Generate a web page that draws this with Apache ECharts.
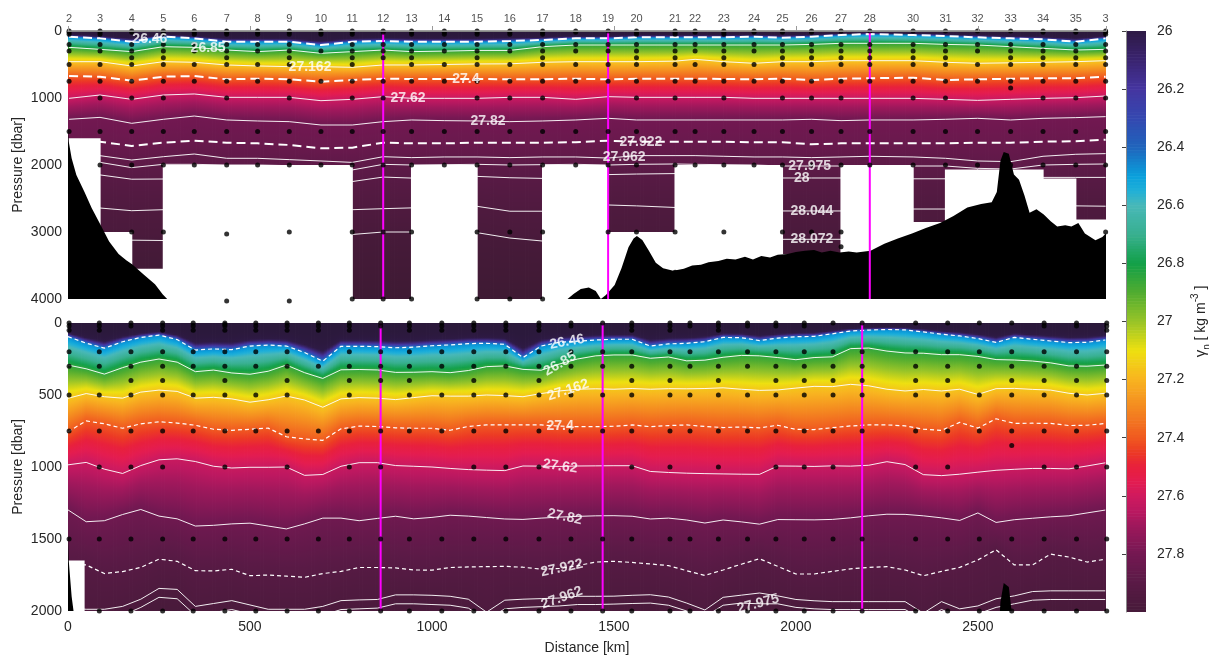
<!DOCTYPE html>
<html>
<head>
<meta charset="utf-8">
<script src="https://cdn.jsdelivr.net/npm/echarts@6/dist/echarts.min.js"></script>
<style>
html, body { margin: 0; padding: 0; background: #fff; }
#chart { width: 1209px; height: 656px; }
</style>
</head>
<body>
<div id="chart"></div>
<script>
// ---------------- Upper section: CTD stations, 0-4000 dbar ----------------
const upperStationNames = ['2','3','4','5','6','7','8','9','10','11','12','13','14','15','16','17','18','19','20','21','22','23','24','25','26','27','28','30','31','32','33','34','35','3'];
const upperStationKm = [3,88,175,262,347,436,521,608,695,781,866,944,1034,1124,1214,1304,1395,1484,1562,1668,1723,1802,1885,1963,2043,2124,2203,2322,2411,2499,2590,2679,2769,2851];

// neutral density surfaces: depth (dbar) at each station
const upper_26_46  = [85,110,160,85,110,160,160,160,210,160,150,160,160,160,150,134,110,110,95,95,95,95,85,100,85,60,45,60,75,95,110,125,160,110];
const upper_26_85  = [244,274,308,234,244,284,308,284,333,308,284,308,300,290,290,234,209,209,209,209,209,209,209,209,200,184,184,184,200,209,234,259,284,274];
const upper_27_162 = [458,458,522,458,467,507,522,532,532,542,507,507,500,492,490,467,458,458,458,450,423,458,482,458,458,443,443,443,467,482,475,467,458,443];
const upper_27_4   = [672,682,742,682,672,721,712,721,756,731,712,716,716,716,721,721,712,721,712,712,712,716,721,712,731,712,705,697,731,721,712,705,705,682];
const upper_27_62  = [1005,955,1020,955,940,990,990,990,1040,1020,980,1005,1005,1005,990,990,1020,980,990,990,990,990,1005,1005,1005,1005,1005,1005,1020,1035,1020,1005,995,970];
const upper_27_82  = [1318,1289,1378,1318,1269,1328,1343,1353,1403,1403,1353,1328,1338,1343,1353,1343,1328,1303,1328,1328,1328,1328,1328,1328,1318,1338,1328,1328,1318,1303,1328,1303,1293,1278];
const upper_27_922 = [1660,1652,1716,1667,1637,1667,1677,1701,1751,1741,1667,1677,1677,1667,1667,1667,1660,1637,1652,1652,1652,1652,1660,1660,1692,1677,1677,1677,1677,1667,1667,1652,1645,1622];
const upper_27_962 = [1860,1861,1926,1876,1836,1900,1900,1920,1940,1961,1876,1890,1880,1880,1890,1880,1880,1896,1860,1860,1860,1870,1880,1880,1890,1880,1870,1880,1900,1940,1950,1870,1840,1830];
const upper_27_975 = [1960,1961,2039,1990,1990,2000,2000,2010,2030,2074,1990,2000,1995,1990,2000,1995,1990,2000,1990,1985,1990,1995,2000,2015,2015,2015,2010,2015,2015,2050,2060,2000,1990,1985];
const upper_28     = [2150,2148,2212,2209,2200,2200,2200,2210,2230,2247,2180,2195,2180,2170,2190,2200,2170,2143,2135,2128,2140,2150,2160,2194,2194,2194,2200,2206,2206,2220,2200,2185,2185,2185];
const upper_28_044 = [2640,2642,2682,2667,2660,2660,2660,2660,2665,2667,2652,2640,2630,2617,2690,2690,2640,2597,2610,2634,2650,2660,2670,2686,2686,2686,2670,2657,2657,2650,2640,2608,2610,2615];
const upper_28_072 = [3150,3150,3122,3127,3080,3060,3050,3050,3045,3037,3000,3000,3005,3010,3090,3135,3100,3080,3090,3100,3100,3100,3100,3109,3109,3109,3100,3100,3100,3100,3100,3100,3100,3100];

// deepest gridded pressure between neighbouring stations
const upperSectionFloor = [1600,3000,3550,2000,2000,2000,2000,2000,2000,4000,4000,2000,2000,4000,4000,2000,2000,3000,3000,2000,2000,2000,2000,3330,3330,2000,2000,2850,2066,2066,2066,2200,2815];

// bottle depths (dbar) per station
const upperCasts = [
  [0,20,50,200,300,500,750,1500],
  [0,20,50,200,300,500,750,1000,1500,2000,3000],
  [0,20,200,300,400,500,750,1000,1500,2000,3000],
  [0,20,50,200,300,400,500,750,1000,1500,2000,3000],
  [0,20,50,200,300,500,750,1500,2000],
  [0,10,20,50,200,300,400,500,750,1000,1500,2000,3030,4030],
  [0,20,50,200,300,500,750,1500,2000],
  [0,20,50,200,300,400,500,750,1000,1500,2000,3000,4030],
  [0,20,50,300,750,1500,2000],
  [0,20,50,200,300,400,500,750,1000,1500,2000,3000,4000],
  [0,20,200,300,400,750,1000,1500,2000,3000,4000],
  [0,20,50,200,300,400,500,750,1500,2000,3000,4000],
  [0,20,50,200,300,500,750,1500,2000],
  [0,20,50,200,300,400,500,750,1000,1500,2000,3000,4000],
  [0,20,50,200,300,500,750,1000,1500,2000,3000,4000],
  [0,20,50,200,300,400,500,750,1000,1500,2000,3000,4000],
  [0,20,200,300,500,750,1500,2000],
  [0,200,300,500,750,1500,2000,3000],
  [0,20,50,200,300,400,500,750,1000,1500,2000,3000],
  [0,20,50,200,300,400,500,750,1000,1500,2000,3000,3600],
  [0,20,200,300,500,750,1500,2000],
  [0,20,50,200,300,400,500,750,1000,1500,2000,3000],
  [0,20,200,300,500,750,1500,2000],
  [0,20,200,300,400,500,750,1000,1500,2000,3000],
  [0,20,200,300,400,500,750,1000,1500,2000,3000],
  [0,200,300,400,500,750,1000,1500,2000,3000,3220],
  [0,200,300,400,500,750,1500,2000],
  [0,200,300,400,500,750,1000,1500,2000],
  [0,200,300,400,500,750,1000,1500,2000],
  [0,200,300,500,750,1500,2000],
  [0,200,300,400,500,750,850,1500,2000],
  [0,20,200,300,400,500,750,1000,1500,2000],
  [0,20,200,300,400,500,750,1000,1500,2000],
  [0,20,50,200,300,400,500,750,1000,1500,2000,3000]
];

// ---------------- Lower section: high-resolution field, 0-2000 dbar ----------------
const lowerCastKm = [3,86,173,260,344,431,516,602,688,773,859,938,1027,1115,1203,1294,1382,1469,1549,1654,1709,1787,1867,1945,2023,2102,2182,2329,2417,2504,2593,2682,2771,2854];
const lowerKm = [0,50,100,150,200,250,300,350,400,450,500,550,600,650,700,750,800,850,900,950,1000,1050,1100,1150,1200,1250,1300,1350,1400,1450,1500,1550,1600,1650,1700,1750,1800,1850,1900,1950,2000,2050,2100,2150,2200,2250,2300,2350,2400,2450,2500,2550,2600,2650,2700,2750,2800,2850];
const lower_26_46  = [95,140,175,130,100,84,115,188,180,185,160,153,160,205,265,162,162,164,172,168,158,152,143,141,148,240,160,134,126,118,113,113,160,145,141,130,100,102,122,105,95,93,75,56,49,45,48,62,78,90,108,135,100,113,125,136,134,118];
const lower_26_85  = [292,318,355,310,272,250,272,338,327,347,356,335,292,345,385,325,323,326,343,342,338,345,330,303,298,322,328,285,250,228,222,222,245,236,263,258,238,225,228,240,255,240,235,178,174,195,208,210,220,220,232,254,257,264,277,298,300,292];
const lower_27_162 = [523,490,512,522,480,466,475,522,516,527,550,533,507,535,585,527,518,522,532,518,505,508,508,500,504,512,490,472,460,457,460,455,460,456,457,455,450,460,468,465,452,440,442,426,436,460,472,462,472,460,496,456,454,461,466,488,500,488];
const lower_27_4   = [755,680,700,731,700,686,695,710,738,745,738,730,790,805,815,735,716,719,728,731,731,745,718,708,708,708,708,716,720,720,717,708,720,712,708,718,726,722,728,710,739,740,727,715,708,708,714,737,746,690,730,665,697,696,697,712,710,698];
const lower_27_62  = [985,968,1015,1045,990,950,943,962,995,1007,1002,1002,1000,1058,1052,995,970,970,990,995,1000,1010,1018,1022,1025,993,994,996,993,992,991,991,1031,1038,1043,1046,1048,1050,1051,993,994,996,992,994,988,963,983,1053,1060,1050,1036,1023,1016,1010,1010,1013,993,971];
const lower_27_82  = [1298,1380,1373,1330,1295,1341,1360,1410,1405,1395,1390,1410,1430,1395,1355,1355,1373,1357,1342,1360,1350,1335,1341,1351,1361,1364,1355,1348,1343,1339,1338,1342,1361,1355,1368,1389,1368,1381,1397,1365,1366,1367,1364,1353,1339,1328,1329,1339,1353,1371,1319,1385,1366,1356,1346,1339,1319,1299];
const lower_27_922 = [1678,1680,1740,1726,1697,1640,1655,1720,1722,1710,1755,1750,1758,1766,1740,1725,1698,1698,1701,1715,1716,1698,1694,1692,1690,1696,1710,1705,1685,1660,1655,1663,1673,1685,1720,1753,1715,1675,1637,1690,1743,1743,1725,1707,1697,1692,1715,1755,1725,1697,1645,1575,1680,1680,1605,1625,1660,1641];
const lower_27_962 = [1978,1988,1988,1968,1918,1843,1850,1968,1948,1928,1958,1988,1988,1988,1968,1928,1923,1920,1888,1888,1891,1898,1918,2008,1925,1918,1914,1910,1898,1898,1897,1891,1887,1903,1945,1993,1905,1890,1875,1895,1920,1929,1935,1935,1935,1935,1935,2015,1935,1985,1965,1915,1895,1865,1860,1860,1860,1860];
const lower_27_975 = [2040,2050,2050,2030,1975,1905,1915,2030,2010,1990,2020,2050,2050,2050,2030,1990,1985,1980,1950,1950,1955,1960,1980,2060,1985,1975,1970,1965,1955,1955,1952,1948,1945,1960,2000,2040,1960,1945,1950,1950,1975,1985,1990,1990,1990,1990,1990,2060,1990,2040,2020,1975,1950,1925,1920,1920,1920,1920];

// pressure range without data in the lower section: [km from, km to, dbar]
const lowerGaps = [[0, 44, 1650]];

// ---------------- Bottom topography (km, dbar) ----------------
const bathyKm = [0,2,10,23,45,65,90,113,139,160,176,207,239,260,276,300,1330,1352,1368,1389,1409,1431,1450,1464,1478,1502,1521,1540,1554,1563,1578,1596,1615,1635,1663,1692,1715,1739,1760,1787,1810,1834,1860,1882,1905,1929,1950,1977,2000,2025,2050,2071,2095,2120,2145,2167,2205,2243,2280,2319,2357,2396,2433,2471,2509,2538,2552,2562,2571,2585,2599,2613,2628,2642,2661,2681,2700,2718,2740,2757,2776,2794,2823,2842,2856];
const bathyDbar = [1480,1650,1900,2150,2400,2640,2900,3140,3330,3420,3480,3630,3780,3930,4020,4300,4300,4050,4020,3926,3850,3828,3880,4000,3940,3790,3537,3228,3098,3060,3120,3280,3460,3540,3580,3548,3500,3487,3450,3433,3400,3410,3370,3410,3360,3382,3340,3330,3300,3280,3270,3306,3280,3306,3290,3306,3280,3176,3098,3021,2940,2866,2761,2634,2582,2557,2403,1937,1806,1833,2143,2221,2454,2712,2660,2737,2840,2918,2900,2918,2866,3021,3124,3073,2996];

// ---------------- Contour levels and annotation ----------------
const upperLevels = [26.46, 26.85, 27.162, 27.4, 27.62, 27.82, 27.922, 27.962, 27.975, 28, 28.044, 28.072];
const lowerLevels = [26.46, 26.85, 27.162, 27.4, 27.62, 27.82, 27.922, 27.962, 27.975];
const dashedLevels = [26.46, 27.4, 27.922];
const markedStations = ['12', '19', '28'];
const colourTicks = [26, 26.2, 26.4, 26.6, 26.8, 27, 27.2, 27.4, 27.6, 27.8];

// label anchors: [level, km, rotation]
const upperLabelPlaces = [[26.46,225,0],[26.85,385,0],[27.162,665,0],[27.4,1093,0],[27.62,934,0],[27.82,1154,0],[27.922,1574,0],[27.962,1528,0],[27.975,2038,0],[28,2016,0],[28.044,2044,0],[28.072,2044,0]];
const lowerLabelPlaces = [[26.46,1371,10],[26.85,1352,30],[27.162,1374,18],[27.4,1352,0],[27.62,1352,-8],[27.82,1365,-12],[27.922,1357,12],[27.962,1357,20],[27.975,1896,15]];

const upperIso = [upper_26_46, upper_26_85, upper_27_162, upper_27_4, upper_27_62, upper_27_82, upper_27_922, upper_27_962, upper_27_975, upper_28, upper_28_044, upper_28_072];
const lowerIso = [lower_26_46, lower_26_85, lower_27_162, lower_27_4, lower_27_62, lower_27_82, lower_27_922, lower_27_962, lower_27_975];

// ---------------- colour map ----------------
const palette = [
  [25.6,'#2a1838'],[26.0,'#2e1a45'],[26.1,'#3a2470'],[26.2,'#4535a0'],[26.3,'#3448b0'],[26.4,'#2064bc'],
  [26.5,'#0aa0dc'],[26.55,'#20b0d8'],[26.6,'#48b8b8'],[26.7,'#38b090'],[26.8,'#12a048'],[26.9,'#50ac30'],
  [27.0,'#98c428'],[27.1,'#eee010'],[27.2,'#f8b420'],[27.3,'#f48820'],[27.4,'#f05a20'],[27.45,'#ec3a24'],
  [27.5,'#e8203c'],[27.55,'#e41c50'],[27.6,'#d01a5e'],[27.65,'#bc1860'],[27.7,'#a0185c'],[27.8,'#741852'],
  [27.9,'#5a1a46'],[28.0,'#461a39'],[28.1,'#361a2e']
];
// shading of the deep water in the station section
const upperDeepShade = [[27.8,27.8],[27.92,27.84],[27.99,27.9],[28.068,27.98],[28.09,28.05]];

const paletteRgb = palette.map(p => [p[0], parseInt(p[1].slice(1,3),16), parseInt(p[1].slice(3,5),16), parseInt(p[1].slice(5,7),16)]);
function colourOf(v) {
  const P = paletteRgb;
  if (v <= P[0][0]) return `rgb(${P[0][1]},${P[0][2]},${P[0][3]})`;
  for (let i = 1; i < P.length; i++) {
    if (v <= P[i][0]) {
      const t = (v - P[i-1][0]) / (P[i][0] - P[i-1][0]);
      const c = [1,2,3].map(k => Math.round(P[i-1][k] + t * (P[i][k] - P[i-1][k])));
      return `rgb(${c[0]},${c[1]},${c[2]})`;
    }
  }
  const L = P[P.length-1];
  return `rgb(${L[1]},${L[2]},${L[3]})`;
}

function interpAt(xs, ys, x) {
  if (x <= xs[0]) return ys[0];
  const n = xs.length;
  if (x >= xs[n-1]) return ys[n-1];
  let i = 1;
  while (xs[i] < x) i++;
  const t = (x - xs[i-1]) / (xs[i] - xs[i-1]);
  return ys[i-1] + t * (ys[i] - ys[i-1]);
}
const upperShade = v => v <= 27.8 ? v : interpAt(upperDeepShade.map(p => p[0]), upperDeepShade.map(p => p[1]), v);
const lowerShade = v => v;

// value of gamma_n at pressure z for one column given surface depths nd / values nv
function profileValue(z, nd, nv) {
  if (z <= nd[1]) { const t = z / nd[1]; return nv[0] + (nv[1] - nv[0]) * t * t * t; }
  for (let i = 2; i < nd.length; i++) {
    if (z <= nd[i]) { const t = (z - nd[i-1]) / (nd[i] - nd[i-1]); return nv[i-1] + t * (nv[i] - nv[i-1]); }
  }
  return nv[nv.length-1];
}

function buildColumns(kms, iso, lv, surfaceVal, bottomVal, maxDepth, step, xMax, colW, shade) {
  const cols = [];
  for (let x0 = 0; x0 < xMax; x0 += colW) {
    const x1 = Math.min(x0 + colW, xMax);
    const xc = (x0 + x1) / 2;
    const nd = [0], nv = [surfaceVal];
    iso.forEach((arr, k) => {
      let d = interpAt(kms, arr, xc);
      if (d <= nd[nd.length-1]) d = nd[nd.length-1] + 0.5;
      nd.push(d); nv.push(lv[k]);
    });
    nd.push(Math.max(maxDepth, nd[nd.length-1] + 100)); nv.push(bottomVal);
    const stops = [];
    for (let z = 0; z <= maxDepth; z += step) stops.push({ offset: z / maxDepth, color: colourOf(shade(profileValue(z, nd, nv))) });
    cols.push({ x0, x1, fill: { type: 'linear', x: 0, y: 0, x2: 0, y2: 1, colorStops: stops, global: false } });
  }
  return cols;
}

const X_MAX = 2852;
const upperCols = buildColumns(upperStationKm, upperIso, upperLevels, 25.7, 28.09, 4000, 20, X_MAX, 4, upperShade);
const lowerCols = buildColumns(lowerKm, lowerIso, lowerLevels, 25.7, 27.99, 2000, 10, X_MAX, 4, lowerShade);

const FONT = '"Liberation Sans", Arial, Helvetica, sans-serif';
const INK = '#262626';

const series = [];

function fieldSeries(cols, gi, maxDepth) {
  return {
    type: 'custom', xAxisIndex: gi === 0 ? 0 : 2, yAxisIndex: gi, z: 1, silent: true, clip: true,
    data: cols.map((c, i) => [c.x0, c.x1, i]),
    encode: { x: [0, 1] },
    renderItem(params, api) {
      const c = cols[api.value(2)];
      const a = api.coord([c.x0, 0]);
      const b = api.coord([c.x1, maxDepth]);
      return { type: 'rect', shape: { x: a[0], y: a[1], width: b[0] - a[0] + 0.8, height: b[1] - a[1] }, style: { fill: c.fill } };
    }
  };
}
series.push(fieldSeries(upperCols, 0, 4000));
series.push(fieldSeries(lowerCols, 1, 2000));

// contour lines
function contourSeries(kms, iso, lv, gi, thick) {
  return lv.map((level, k) => {
    const dashed = dashedLevels.includes(level);
    return {
      type: 'line', xAxisIndex: gi === 0 ? 0 : 2, yAxisIndex: gi, z: 2, silent: true, symbol: 'none',
      clip: true,
      data: kms.map((x, i) => [x, iso[k][i]]),
      lineStyle: dashed
        ? { color: '#ffffff', width: thick ? 2 : 1.2, type: thick ? [9, 5] : [4, 3] }
        : { color: 'rgba(255,255,255,0.92)', width: 1 }
    };
  });
}
series.push(...contourSeries(upperStationKm, upperIso, upperLevels, 0, true));
series.push(...contourSeries(lowerKm, lowerIso, lowerLevels, 1, false));

// white areas without data
const upperGaps = [];
upperSectionFloor.forEach((f, i) => { if (f < 4000) upperGaps.push([upperStationKm[i], upperStationKm[i+1], f]); });
function gapSeries(gaps, gi, maxDepth) {
  return {
    type: 'custom', xAxisIndex: gi === 0 ? 0 : 2, yAxisIndex: gi, z: 3, silent: true, clip: true,
    data: gaps, encode: { x: [0, 1] },
    renderItem(params, api) {
      const a = api.coord([api.value(0), api.value(2)]);
      const b = api.coord([api.value(1), maxDepth]);
      return { type: 'rect', shape: { x: a[0] - 0.6, y: a[1], width: b[0] - a[0] + 1.2, height: b[1] - a[1] + 1 }, style: { fill: '#ffffff' } };
    }
  };
}
series.push(gapSeries(upperGaps, 0, 4000));
series.push(gapSeries(lowerGaps, 1, 2000));

// bottom topography
function bathySeries(gi) {
  return {
    type: 'custom', xAxisIndex: gi === 0 ? 0 : 2, yAxisIndex: gi, z: 4, silent: true, clip: true,
    data: [[0, 0]],
    renderItem(params, api) {
      const pts = bathyKm.map((k, i) => api.coord([k, bathyDbar[i]]));
      pts.push(api.coord([bathyKm[bathyKm.length-1], 6000]));
      pts.push(api.coord([bathyKm[0], 6000]));
      return { type: 'polygon', shape: { points: pts }, style: { fill: '#000000' } };
    }
  };
}
series.push(bathySeries(0));
series.push(bathySeries(1));

// magenta reference stations
function markSeries(kms, gi, maxDepth) {
  return markedStations.map(name => {
    const x = kms[upperStationNames.indexOf(name)];
    return {
      type: 'line', xAxisIndex: gi === 0 ? 0 : 2, yAxisIndex: gi, z: 5, silent: true, symbol: 'none',
      data: [[x, 0], [x, maxDepth]], lineStyle: { color: '#ff00ff', width: 2 }
    };
  });
}
series.push(...markSeries(upperStationKm, 0, 4000));
series.push(...markSeries(lowerCastKm, 1, 2000));

// sample positions
function castDots(kms, gi, maxDepth) {
  const pts = [];
  upperCasts.forEach((list, i) => list.forEach(d => { if (d <= maxDepth + 40) pts.push([kms[i], d]); }));
  return {
    type: 'scatter', xAxisIndex: gi === 0 ? 0 : 2, yAxisIndex: gi, z: 6, silent: true,
    symbolSize: 5, itemStyle: { color: '#000000' }, data: pts, clip: false
  };
}
series.push(castDots(upperStationKm, 0, 4000));
series.push(castDots(lowerCastKm, 1, 2000));

// contour labels
function labelSeries(places, kms, iso, lv, gi) {
  return {
    type: 'scatter', xAxisIndex: gi === 0 ? 0 : 2, yAxisIndex: gi, z: 7, silent: true, symbolSize: 0,
    data: places.map(([level, km, rot]) => ({
      value: [km, interpAt(kms, iso[lv.indexOf(level)], km)],
      name: String(level),
      label: { rotate: rot }
    })),
    label: {
      show: true, position: 'inside', formatter: p => p.name,
      color: '#ffffff', fontWeight: 'bold', fontSize: 14, fontFamily: FONT
    }
  };
}
series.push(labelSeries(upperLabelPlaces, upperStationKm, upperIso, upperLevels, 0));
series.push(labelSeries(lowerLabelPlaces, lowerKm, lowerIso, lowerLevels, 1));

// station numbers above the upper section
series.push({
  type: 'scatter', xAxisIndex: 0, yAxisIndex: 0, z: 7, silent: true, symbolSize: 0, clip: false,
  data: upperStationKm.map((k, i) => ({ value: [k, 0], name: upperStationNames[i] })),
  label: { show: true, position: 'top', distance: 7, formatter: p => p.name, color: INK, fontSize: 11, fontFamily: FONT }
});

// colour scale
const barSlices = [];
for (let i = 0; i < 200; i++) barSlices.push([26 + i * 0.01, 26 + (i + 1) * 0.01]);
series.push({
  type: 'custom', xAxisIndex: 3, yAxisIndex: 2, z: 1, silent: true, clip: true,
  data: barSlices, encode: { y: [0, 1] },
  renderItem(params, api) {
    const v0 = api.value(0), v1 = api.value(1);
    const a = api.coord([0, v0]);
    const b = api.coord([1, v1]);
    return { type: 'rect', shape: { x: a[0], y: a[1], width: b[0] - a[0], height: b[1] - a[1] + 0.6 }, style: { fill: colourOf((v0 + v1) / 2) } };
  }
});

const plain = v => String(v);

const option = {
  animation: false,
  backgroundColor: '#ffffff',
  textStyle: { fontFamily: FONT },
  grid: [
    { left: 68, top: 31, width: 1038, height: 268, outerBoundsMode: 'none', containLabel: false },
    { left: 68, top: 323, width: 1038, height: 288, outerBoundsMode: 'none', containLabel: false },
    { left: 1126, top: 31, width: 20, height: 581, outerBoundsMode: 'none', containLabel: false }
  ],
  xAxis: [
    { gridIndex: 0, type: 'value', min: 0, max: X_MAX, interval: 500, z: 8,
      axisLine: { show: true, lineStyle: { color: '#9a9a9a', width: 1 } },
      axisTick: { show: true, inside: true, length: 5, lineStyle: { color: '#9a9a9a' } },
      axisLabel: { show: false }, splitLine: { show: false } },
    { gridIndex: 0, type: 'value', position: 'top', min: 0, max: X_MAX, z: 8,
      axisLine: { show: true, lineStyle: { color: '#808080', width: 1.5 } },
      axisTick: { show: false }, axisLabel: { show: false }, splitLine: { show: false } },
    { gridIndex: 1, type: 'value', min: 0, max: X_MAX, interval: 500,
      axisLine: { show: false }, axisTick: { show: false }, splitLine: { show: false },
      axisLabel: { color: INK, fontSize: 14, margin: 9, showMaxLabel: false, fontFamily: FONT, formatter: plain },
      name: 'Distance [km]', nameLocation: 'middle', nameGap: 30, nameMoveOverlap: false,
      nameTextStyle: { color: INK, fontSize: 14, fontFamily: FONT } },
    { gridIndex: 2, type: 'value', min: 0, max: 1, show: false }
  ],
  yAxis: [
    { gridIndex: 0, type: 'value', min: 0, max: 4000, interval: 1000, inverse: true,
      axisLine: { show: false }, axisTick: { show: false }, splitLine: { show: false },
      axisLabel: { color: INK, fontSize: 14, margin: 6, fontFamily: FONT, formatter: plain },
      name: 'Pressure [dbar]', nameLocation: 'middle', nameGap: 43, nameMoveOverlap: false,
      nameTextStyle: { color: INK, fontSize: 14, fontFamily: FONT } },
    { gridIndex: 1, type: 'value', min: 0, max: 2000, interval: 500, inverse: true,
      axisLine: { show: false }, axisTick: { show: false }, splitLine: { show: false },
      axisLabel: { color: INK, fontSize: 14, margin: 6, fontFamily: FONT, formatter: plain },
      name: 'Pressure [dbar]', nameLocation: 'middle', nameGap: 43, nameMoveOverlap: false,
      nameTextStyle: { color: INK, fontSize: 14, fontFamily: FONT } },
    { gridIndex: 2, type: 'value', min: 26, max: 28, interval: 0.2, inverse: true, position: 'right', z: 8,
      axisLine: { show: true, lineStyle: { color: '#8a8a8a', width: 1 } },
      axisTick: { show: true, inside: true, length: 4, lineStyle: { color: '#404040' } },
      splitLine: { show: false },
      axisLabel: { color: INK, fontSize: 14, margin: 11, showMaxLabel: false, fontFamily: FONT,
        formatter: v => colourTicks.some(t => Math.abs(t - v) < 1e-6) ? String(Math.round(v * 10) / 10) : '' },
      name: '{g|γ}{s|n} [ kg m{p|-3} ]', nameLocation: 'middle', nameGap: 44, nameRotate: 90, nameMoveOverlap: false,
      nameTextStyle: { color: INK, fontSize: 14, fontFamily: FONT, lineHeight: 22,
        rich: {
          g: { fontSize: 15, color: INK, fontFamily: FONT, lineHeight: 22 },
          s: { fontSize: 10, color: INK, fontFamily: FONT, verticalAlign: 'bottom', lineHeight: 22 },
          p: { fontSize: 10, color: INK, fontFamily: FONT, verticalAlign: 'top', lineHeight: 22 }
        } } }
  ],
  series
};

const chart = echarts.init(document.getElementById('chart'), null, { renderer: 'canvas' });
chart.setOption(option);
</script>
</body>
</html>
